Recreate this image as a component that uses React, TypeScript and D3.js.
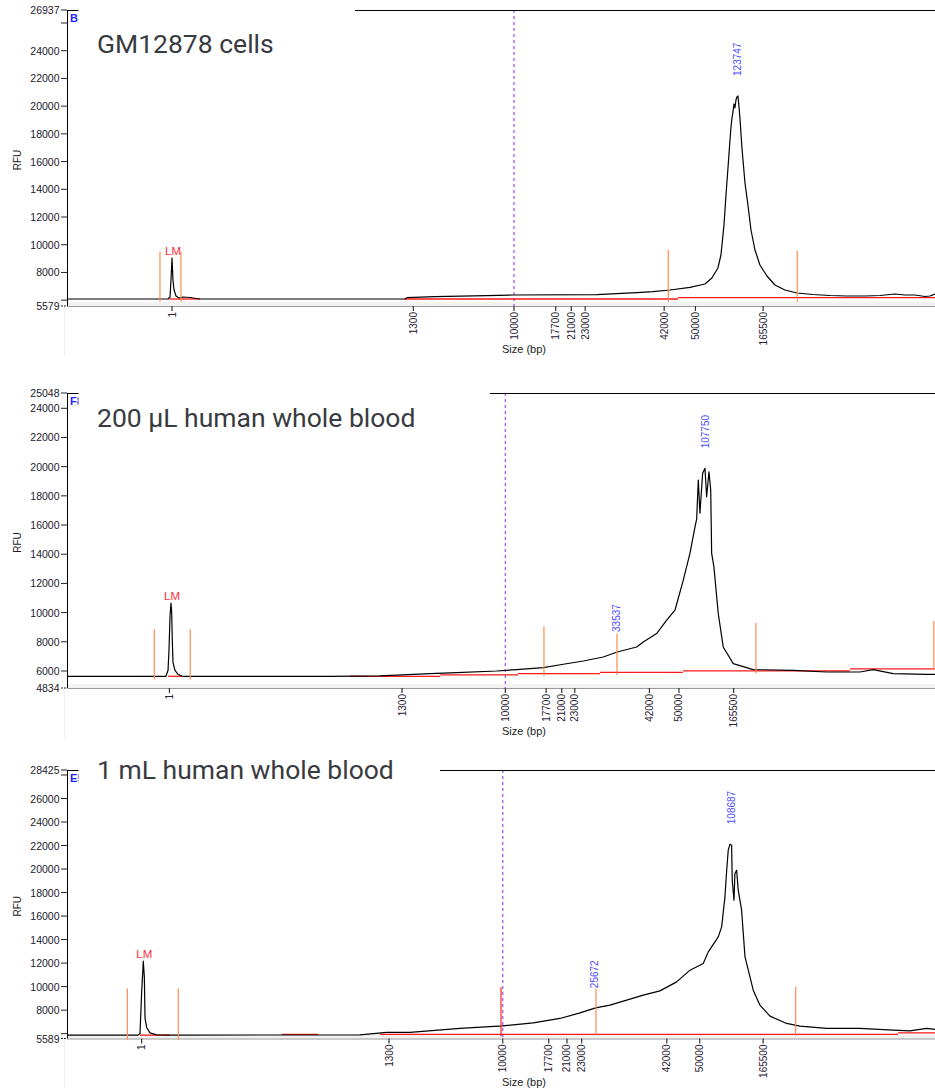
import React from 'react';
import * as d3 from 'd3';

// ---------- DATA ----------
const panelTitles = ['GM12878 cells', '200 µL human whole blood', '1 mL human whole blood'];
const capillaryIds = ['B1', 'F8', 'E5'];
const yMin = [5579, 4834, 5589];
const yMax = [26937, 25048, 28425];
const X_DOMAIN: [number, number] = [0, 1000]; // migration time (data points)

const ladderLabels = ['1', '1300', '10000', '17700', '21000', '23000', '42000', '50000', '165500'];
const ladderTime1 = [121, 399, 515, 563, 581, 597, 688, 724, 802];
const ladderTime2 = [118, 386, 505, 552, 570, 585, 671, 705, 768];
const ladderTime3 = [86, 371, 502, 555, 576, 593, 691, 729, 802];

// electropherogram traces: [time, RFU]
const trace1: [number, number][] = [
  [0, 6084], [116.4, 6084], [118.7, 6228], [119.8, 7455], [121.0, 9043], [121.5, 8321], [122.1, 7455],
  [123.3, 6734], [125.6, 6300], [129.0, 6156], [133.6, 6228], [141.7, 6192], [153.2, 6084], [389.4, 6084],
  [391.7, 6178], [423.9, 6250], [483.8, 6322], [513.8, 6373], [610.6, 6394], [656.6, 6539], [675.1, 6611],
  [694.7, 6734], [717.7, 6928], [735.0, 7167], [743.0, 7600], [749.9, 8321], [753.4, 9259], [754.6, 9981],
  [756.9, 11424], [759.2, 13589], [761.5, 15537], [763.8, 17558], [764.9, 18423], [766.1, 19145],
  [767.2, 19578], [768.4, 20156], [769.5, 19867], [770.7, 20444], [771.8, 20660], [773.0, 20733],
  [774.1, 20011], [775.3, 19145], [777.6, 16980], [781.1, 14455], [784.5, 12867], [788.0, 11063],
  [792.6, 9620], [798.3, 8538], [806.4, 7744], [815.6, 7094], [827.1, 6734], [841.0, 6517], [859.4, 6409],
  [879.0, 6337], [898.6, 6300], [919.3, 6300], [936.6, 6337], [953.9, 6445], [965.4, 6373], [976.9, 6373],
  [988.4, 6264], [994.2, 6300], [1000, 6445],
];
const trace2: [number, number][] = [
  [0, 5636], [114.0, 5636], [116.4, 6048], [117.5, 7420], [118.7, 9821], [119.8, 10644], [120.6, 10027],
  [121.3, 8106], [122.1, 6597], [124.4, 6048], [127.9, 5774], [132.5, 5636], [303.0, 5636], [360.6, 5671],
  [418.2, 5822], [448.9, 5890], [495.0, 6000], [518.1, 6096], [548.7, 6233], [571.8, 6460], [594.8, 6686],
  [617.8, 6960], [633.9, 7303], [656.3, 7646], [663.9, 7989], [679.3, 8566], [690.9, 9478], [700.4, 10164],
  [710.0, 12222], [717.7, 14054], [723.5, 15878], [725.4, 16400], [727.3, 19082], [729.2, 16818],
  [732.3, 19542], [735.0, 19885], [736.9, 17936], [739.6, 19651], [741.6, 18396], [742.7, 14054],
  [745.3, 13134], [750.3, 9938], [756.0, 7646], [767.6, 6508], [790.6, 6096], [836.7, 6048], [875.2, 5931],
  [913.5, 5931], [928.9, 6096], [951.9, 5822], [990.3, 5774], [1000, 5774],
];
const trace3: [number, number][] = [
  [0, 5874], [81.8, 5874], [84.1, 6019], [86.1, 9701], [87.2, 11146], [87.9, 12166], [89.1, 10832],
  [89.9, 7294], [91.8, 6529], [95.6, 6070], [103.3, 5900], [124.4, 5874], [337.5, 5900], [368.3, 6104],
  [395.1, 6104], [452.7, 6444], [501.9, 6665], [537.2, 6920], [567.9, 7294], [591.0, 7770], [609.1, 8196],
  [625.5, 8425], [644.8, 8850], [663.9, 9275], [683.1, 9641], [702.4, 10406], [717.7, 11401], [733.0, 11971],
  [738.8, 12957], [750.3, 14233], [754.2, 15083], [758.0, 17634], [760.0, 19904], [761.8, 21605],
  [763.8, 22115], [765.7, 22030], [766.4, 19054], [768.4, 17353], [769.5, 19624], [771.5, 19904],
  [773.3, 18204], [777.2, 16503], [781.1, 12532], [784.9, 11401], [790.6, 9701], [798.3, 8425], [809.9, 7490],
  [829.1, 6869], [844.4, 6640], [875.2, 6444], [913.5, 6444], [951.9, 6299], [971.1, 6240], [990.3, 6444],
  [1000, 6359],
];

// red baseline segments: [tStart, tEnd, RFU]
const baseline1: [number, number, number][] = [[118, 153, 6084], [389, 704, 6084], [704, 1000, 6178]];
const baseline2: [number, number, number][] = [
  [116.4, 132.5, 5636], [326, 430, 5636], [430, 519.6, 5739], [519.6, 614, 5822], [614, 709.6, 5911],
  [709.6, 902, 6014], [902, 1000, 6151],
];
const baseline3: [number, number, number][] = [
  [84.1, 118.7, 5874], [247.7, 289.2, 5934], [360.6, 957.3, 5934], [957.3, 1000, 6070],
];

// peak boundary markers: time, top RFU, bottom RFU
const markerTime1 = [107.1, 131.3, 692.7, 841.3];
const markerTop1 = [9497, 9497, 9620, 9570];
const markerBottom1 = [5889, 5889, 5889, 5889];
const markerTime2 = [100.6, 142.0, 549.5, 633.6, 793.7, 998.7];
const markerTop2 = [8861, 8861, 9066, 8566, 9293, 9430];
const markerBottom2 = [5410, 5410, 5636, 5705, 5822, 6048];
const markerTime3 = [69.5, 128.2, 609.4, 839.5];
const markerTop3 = [9845, 9845, 9845, 9981];
const markerBottom3 = [5509, 5509, 5874, 5815];
// user marker (red)
const redMarkerTime3 = [500];
const redMarkerTop3 = [9956];
const redMarkerBottom3 = [5789];

// called peaks
const peakLabels1 = ['123747'];
const peakTime1 = [773.0];
const peakRfu1 = [20733];
const peakLabels2 = ['33537', '107750'];
const peakTime2 = [633.6, 735.7];
const peakRfu2 = [7303, 19885];
const peakLabels3 = ['25672', '108687'];
const peakTime3 = [607.4, 765.7];
const peakRfu3 = [8170, 22115];

// lower marker (LM) peak
const lmTime = [121.0, 119.8, 87.9];
const lmRfu = [9043, 10644, 12166];

// ---------- LAYOUT ----------
const W = 935;
const H = 1091;
const PLOT_LEFT = 67;
const PLOT_RIGHT = 935;
const layouts = [
  { top: 10, bottom: 306, boxRight: 355, titleBaseline: 53 },
  { top: 393, bottom: 688, boxRight: 490, titleBaseline: 427 },
  { top: 770, bottom: 1038.5, boxRight: 440, titleBaseline: 779 },
];

const panels = [
  { trace: trace1, baseline: baseline1, ladder: ladderTime1, mT: markerTime1, mTop: markerTop1, mBot: markerBottom1,
    rT: [] as number[], rTop: [] as number[], rBot: [] as number[], pL: peakLabels1, pT: peakTime1, pR: peakRfu1 },
  { trace: trace2, baseline: baseline2, ladder: ladderTime2, mT: markerTime2, mTop: markerTop2, mBot: markerBottom2,
    rT: [] as number[], rTop: [] as number[], rBot: [] as number[], pL: peakLabels2, pT: peakTime2, pR: peakRfu2 },
  { trace: trace3, baseline: baseline3, ladder: ladderTime3, mT: markerTime3, mTop: markerTop3, mBot: markerBottom3,
    rT: redMarkerTime3, rTop: redMarkerTop3, rBot: redMarkerBottom3, pL: peakLabels3, pT: peakTime3, pR: peakRfu3 },
];

const AXIS_FONT = '"Liberation Sans", Arial, sans-serif';

function Panel({ i }: { i: number }) {
  const L = layouts[i];
  const P = panels[i];
  const x = d3.scaleLinear().domain(X_DOMAIN).range([PLOT_LEFT, PLOT_RIGHT]);
  const y = d3.scaleLinear().domain([yMin[i], yMax[i]]).range([L.bottom, L.top]);
  const line = d3.line<[number, number]>().x((d) => x(d[0])).y((d) => y(d[1]));
  const ticks = d3.range(Math.ceil(yMin[i] / 2000) * 2000, yMax[i], 2000);
  const tenK = P.ladder[ladderLabels.indexOf('10000')];
  const midY = (L.top + L.bottom) / 2 + 2;

  return (
    <g>
      {/* x-axis band */}
      <rect x={PLOT_LEFT} y={L.bottom - 4} width={PLOT_RIGHT - PLOT_LEFT} height={4} fill="#f2f2f2" />
      <line x1={PLOT_LEFT} x2={PLOT_RIGHT} y1={L.bottom + 0.5} y2={L.bottom + 0.5} stroke="#9a9a9a" strokeWidth={1} />
      <line x1={64.5} x2={64.5} y1={L.bottom} y2={L.bottom + 50} stroke="#efefef" strokeWidth={1} />

      {/* purple dashed line at 10000 bp */}
      <line x1={x(tenK)} x2={x(tenK)} y1={L.top} y2={L.bottom} stroke="#a45cf2" strokeWidth={1.3} strokeDasharray="3,3" />

      {/* red baseline */}
      {P.baseline.map((s, k) => (
        <line key={'b' + k} x1={x(s[0])} x2={x(s[1])} y1={y(s[2])} y2={y(s[2])} stroke="#ff1a1a" strokeWidth={1.3} />
      ))}

      {/* trace */}
      <path d={line(P.trace) || ''} fill="none" stroke="#000" strokeWidth={1.2} strokeLinejoin="round" />

      {/* orange peak boundary markers */}
      {P.mT.map((t, k) => (
        <line key={'m' + k} x1={x(t)} x2={x(t)} y1={y(P.mTop[k])} y2={y(P.mBot[k])} stroke="#ff8a4c" strokeWidth={1.2} />
      ))}
      {P.rT.map((t, k) => (
        <line key={'r' + k} x1={x(t)} x2={x(t)} y1={y(P.rTop[k])} y2={y(P.rBot[k])} stroke="#ff2020" strokeWidth={1.2} />
      ))}

      {/* LM label */}
      <text x={x(lmTime[i]) + 1} y={y(lmRfu[i]) - 3} textAnchor="middle" fontFamily={AXIS_FONT} fontSize={11.5} fill="#ff2d3c">LM</text>

      {/* peak labels */}
      {P.pL.map((lab, k) => {
        const px = x(P.pT[k]);
        const py = y(P.pR[k]) - 20;
        return (
          <text key={'p' + k} transform={`translate(${px},${py}) rotate(-90)`} textAnchor="start" dominantBaseline="central"
            fontFamily={AXIS_FONT} fontSize={10} fill="#4d4dff">{lab}</text>
        );
      })}

      {/* frame */}
      <line x1={PLOT_LEFT + 0.5} x2={PLOT_LEFT + 0.5} y1={L.top} y2={L.bottom} stroke="#000" strokeWidth={1} />
      <line x1={PLOT_LEFT} x2={PLOT_RIGHT} y1={L.top + 0.5} y2={L.top + 0.5} stroke="#000" strokeWidth={1} />

      {/* capillary id, partly covered by title box */}
      <text x={70} y={L.top + 12} fontFamily={AXIS_FONT} fontSize={11} fontWeight="bold" fill="#1f1fff">{capillaryIds[i]}</text>
      <rect x={78.5} y={L.top - 8} width={L.boxRight - 78.5} height={30} fill="#fff" />
      <text x={97} y={L.titleBaseline} fontFamily="Roboto, 'Noto Sans', sans-serif" fontSize={26.5} fill="#383b40">{panelTitles[i]}</text>

      {/* y axis ticks */}
      {ticks.map((v) => {
        const yy = y(v);
        const show = Math.abs(yy - L.top) > 14 && Math.abs(yy - L.bottom) > 14;
        return (
          <g key={'t' + v}>
            <line x1={61} x2={PLOT_LEFT} y1={yy} y2={yy} stroke="#222" strokeWidth={1} />
            {show && (
              <text x={59.5} y={yy} textAnchor="end" dominantBaseline="central" fontFamily={AXIS_FONT} fontSize={10.5} fill="#1b1b2b">{v}</text>
            )}
          </g>
        );
      })}
      {[yMin[i], yMax[i]].map((v, k) => (
        <g key={'e' + k}>
          <line x1={61} x2={PLOT_LEFT} y1={y(v)} y2={y(v)} stroke="#222" strokeWidth={1} strokeDasharray={k === 0 ? '2,1' : undefined} />
          <text x={59.5} y={y(v)} textAnchor="end" dominantBaseline="central" fontFamily={AXIS_FONT} fontSize={10.5} fill="#1b1b2b">{v}</text>
        </g>
      ))}
      <text transform={`translate(17,${midY}) rotate(-90)`} textAnchor="middle" dominantBaseline="central"
        fontFamily={AXIS_FONT} fontSize={10} fill="#222">RFU</text>

      {/* x axis (ladder sizes) */}
      {P.ladder.map((t, k) => (
        <g key={'x' + k}>
          <line x1={x(t)} x2={x(t)} y1={L.bottom} y2={L.bottom + 5} stroke="#333" strokeWidth={1.2} />
          <text transform={`translate(${x(t)},${L.bottom + 6}) rotate(-90)`} textAnchor="end" dominantBaseline="central"
            fontFamily={AXIS_FONT} fontSize={10} fill="#2a2233">{ladderLabels[k]}</text>
        </g>
      ))}
      <text x={524} y={L.bottom + 47} textAnchor="middle" fontFamily={AXIS_FONT} fontSize={11} fill="#222">Size (bp)</text>
    </g>
  );
}

export default function App() {
  return (
    <svg width={W} height={H} viewBox={`0 0 ${W} ${H}`} style={{ position: 'absolute', left: 0, top: 0, background: '#fff' }}>
      <rect x={0} y={0} width={W} height={H} fill="#fff" />
      {[0, 1, 2].map((i) => (
        <Panel key={i} i={i} />
      ))}
    </svg>
  );
}
